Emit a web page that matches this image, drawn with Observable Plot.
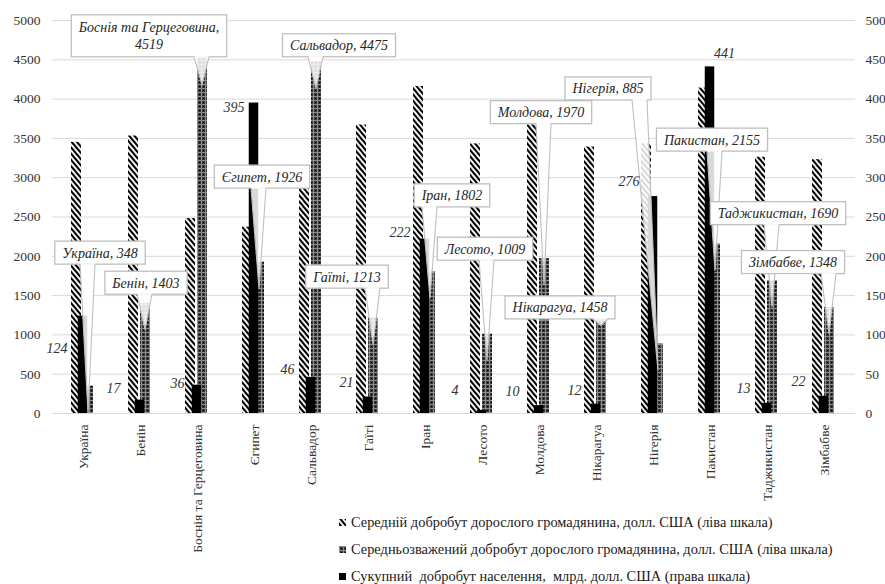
<!DOCTYPE html>
<html><head><meta charset="utf-8">
<script src="https://cdn.jsdelivr.net/npm/d3@7"></script>
<script src="https://cdn.jsdelivr.net/npm/@observablehq/plot@0.6"></script>
<style>
body{margin:0;background:#fff;}
#wrap{position:relative;width:885px;height:584px;overflow:hidden;font-family:"Liberation Serif","Tinos","Times New Roman","DejaVu Serif",serif;}
#legend{position:absolute;left:339px;top:509px;font-size:14.4px;color:#1a1a1a;}
#legend .row{height:27px;white-space:pre;display:flex;align-items:center;}
#legend svg{margin-right:4px;}
</style></head><body><div id="wrap"><div id="legend"></div></div>
<script>
// ---- data ----
const countries = ["Україна","Бенін","Боснія та Герцеговина","Єгипет","Сальвадор","Гаїті","Іран","Лесото","Молдова","Нікарагуа","Нігерія","Пакистан","Таджикистан","Зімбабве"];
const meanWealth   = [3450, 3530, 2480, 2370, 2860, 3670, 4160, 3430, 3670, 3390, 3430, 4140, 3260, 3230];
const medianWealth = [348, 1403, 4519, 1926, 4475, 1213, 1802, 1009, 1970, 1458, 885, 2155, 1690, 1348];
const totalWealth  = [124, 17, 36, 395, 46, 21, 222, 4, 10, 12, 276, 441, 13, 22];
const leftTicks  = [0, 500, 1000, 1500, 2000, 2500, 3000, 3500, 4000, 4500, 5000];
const rightTicks = [0, 50, 100, 150, 200, 250, 300, 350, 400, 450, 500];
const seriesNames = [
  "Середній добробут дорослого громадянина, долл. США (ліва шкала)",
  "Середньозважений добробут дорослого громадянина, долл. США (ліва шкала)",
  "Сукупний  добробут населення,  млрд. долл. США (права шкала)"
];

const rows = countries.map((c, i) => ({country: c, mean: meanWealth[i], median: medianWealth[i], total: totalWealth[i]}));
const rightFactor = leftTicks[leftTicks.length - 1] / rightTicks[rightTicks.length - 1];

// ---- layout (pixel offsets for annotations) ----
const calloutOffset = [[17,-133],[6,-20],[-48,-22],[8,-85],[28,-16],[-21,-41],[27,-76],[3,-85],[2,-146],[-36,9],[-45,-255],[2,-104],[11,-67],[-31,-45]];
const totalOffset = [[-16,32,"end"],[-20,-12,"end"],[-13,-2,"end"],[-10,4,"end"],[-17,-8,"end"],[-15,-14,"end"],[-15,-6,"end"],[-24,-20,"end"],[-20,-14,"end"],[-15,-14,"end"],[-14,-15,"end"],[14,-13,"middle"],[-17,-15,"end"],[-19,-15,"end"]];

const FONT = `"Liberation Serif", Tinos, "Times New Roman", "DejaVu Serif", serif`;
const calloutFont = `italic 14px "Liberation Serif", "DejaVu Serif", serif`;

function defs() {
  const d = d3.create("svg:defs");
  const h = d.append("pattern").attr("id","hatch").attr("patternUnits","userSpaceOnUse")
    .attr("width",4).attr("height",4).attr("patternTransform","rotate(-40)");
  h.append("rect").attr("width",4).attr("height",4).attr("fill","#fff");
  h.append("rect").attr("width",2.1).attr("height",4).attr("fill","#000");
  const c = d.append("pattern").attr("id","check").attr("patternUnits","userSpaceOnUse")
    .attr("width",4).attr("height",4);
  c.append("rect").attr("width",4).attr("height",4).attr("fill","#3a3a3a");
  c.append("rect").attr("width",1).attr("height",4).attr("fill","#8c8c8c");
  c.append("rect").attr("width",4).attr("height",1).attr("fill","#8c8c8c");
  c.append("rect").attr("x",2).attr("y",2).attr("width",1.2).attr("height",1.2).attr("fill","#000");
  return d.node();
}

const ctx = document.createElement("canvas").getContext("2d");
ctx.font = calloutFont;

function callouts(index, scales) {
  const g = d3.create("svg:g");
  const x = scales.x, y = scales.y;
  const bw = x.bandwidth ? x.bandwidth() : 10;
  rows.forEach((r, i) => {
    const cx = x(r.country) + bw / 2;
    const top = y(r.median);
    const tipX = cx + 5, tipY = top + 27;
    const lines = i === 2 ? [r.country + ",", String(r.median)] : [`${r.country}, ${r.median}`];
    const tw = d3.max(lines, l => ctx.measureText(l).width);
    const w = tw + 15, h = lines.length === 1 ? 23 : 42;
    const bx = cx + calloutOffset[i][0], by = top + calloutOffset[i][1];
    const left = bx - w / 2, right = bx + w / 2, tp = by - h / 2, bottom = by + h / 2;
    let b1 = Math.max(left + 3, Math.min(right - 19, tipX - 8));
    const b2 = b1 + 15;
    g.append("rect").attr("x", left).attr("y", tp).attr("width", w).attr("height", h)
      .attr("fill", "#fff").attr("stroke", "#bfbfbf").attr("stroke-width", 1.3);
    g.append("path").attr("d", `M${b1},${bottom - 1}L${tipX},${tipY}L${b2},${bottom - 1}Z`)
      .attr("fill", "#fff").attr("fill-opacity", 0.85);
    g.append("path").attr("d", `M${b1},${bottom}L${tipX},${tipY}L${b2},${bottom}`)
      .attr("fill", "none").attr("stroke", "#bfbfbf").attr("stroke-width", 1.1);
    const t = g.append("text").attr("font-family", FONT).attr("font-style", "italic")
      .attr("font-size", 14).attr("fill", "#262626").attr("text-anchor", "middle");
    lines.forEach((l, k) => {
      t.append("tspan").attr("x", bx).attr("y", by + (k - (lines.length - 1) / 2) * 17 + 5).text(l);
    });
  });
  return g.node();
}

const totalLabels = rows.map((r, i) => Plot.text([r], {
  x: "country", y: d => d.total * rightFactor, text: d => String(d.total),
  dx: totalOffset[i][0], dy: totalOffset[i][1], textAnchor: totalOffset[i][2],
  fontStyle: "italic", fontSize: 14, fill: "#333", fontFamily: FONT
}));

const chart = Plot.plot({
  width: 885, height: 584,
  marginTop: 20, marginBottom: 171, marginLeft: 52, marginRight: 30,
  style: {fontFamily: FONT, fontSize: "13.5px", color: "#333", background: "transparent"},
  x: {domain: countries, paddingInner: 0.8257, paddingOuter: 0.41285, label: null},
  y: {domain: [0, 5000], label: null},
  marks: [
    defs,
    Plot.gridY(leftTicks, {stroke: "#d9d9d9", strokeOpacity: 1}),
    Plot.axisY(leftTicks, {anchor: "left", tickSize: 0, tickPadding: 12, label: null, fill: "#333", tickFormat: d => String(d)}),
    Plot.axisY(leftTicks, {anchor: "right", tickSize: 0, tickPadding: 10, label: null, fill: "#333", tickFormat: d => String(d / rightFactor)}),
    Plot.axisX({tickSize: 0, tickRotate: -90, tickPadding: 11, label: null, fill: "#333"}),
    Plot.barY(rows, {x: "country", y: "mean", fill: "url(#hatch)", dx: -7}),
    Plot.barY(rows, {x: "country", y: "median", fill: "url(#check)", dx: 5}),
    Plot.barY(rows, {x: "country", y: d => d.total * rightFactor, fill: "#000", dx: -0.5, insetLeft: 0.25, insetRight: 0.25}),
    callouts,
    ...totalLabels
  ]
});
document.getElementById("wrap").prepend(chart);

const fills = ["url(#hatch)", "url(#check)", "#000"];
const lg = d3.select("#legend");
seriesNames.forEach((name, i) => {
  const row = lg.append("div").attr("class", "row");
  const s = row.append("svg").attr("width", 8).attr("height", 8);
  s.append("rect").attr("width", 7).attr("height", 7).attr("fill", fills[i]);
  row.append("span").text(name);
});
</script></body></html>
